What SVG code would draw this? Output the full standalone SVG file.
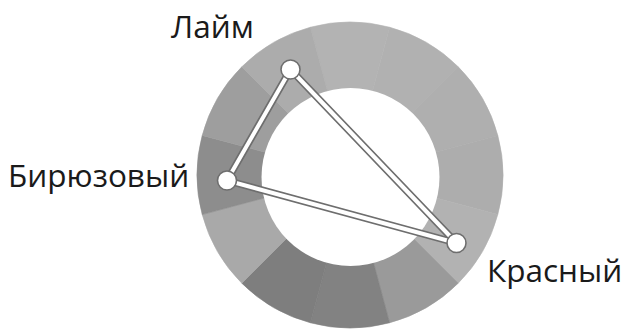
<svg xmlns="http://www.w3.org/2000/svg" width="629" height="329" viewBox="0 0 629 329">
<style>
.lbl{font-family:"Open Sans","Noto Sans","DejaVu Sans",sans-serif;font-size:31.5px;fill:#1a1a1a}
.seg{stroke-width:0.6}
.edge-o{stroke:#6e6e6e;stroke-width:7.5;stroke-linecap:round;stroke-linejoin:round;fill:none}
.edge-i{stroke:#ffffff;stroke-width:4;stroke-linecap:round;stroke-linejoin:round;fill:none}
.dot{fill:#ffffff;stroke:#6e6e6e;stroke-width:1.6}
</style>
<rect width="629" height="329" fill="#ffffff"/>
<g id="wheel">
<path class="seg" d="M350 175 L310.4 27.2 A153 153 0 0 1 389.6 27.2 Z" fill="#b3b3b3" stroke="#b3b3b3"/>
<path class="seg" d="M350 175 L389.6 27.2 A153 153 0 0 1 458.2 66.8 Z" fill="#b1b1b1" stroke="#b1b1b1"/>
<path class="seg" d="M350 175 L458.2 66.8 A153 153 0 0 1 497.8 135.4 Z" fill="#afafaf" stroke="#afafaf"/>
<path class="seg" d="M350 175 L497.8 135.4 A153 153 0 0 1 497.8 214.6 Z" fill="#adadad" stroke="#adadad"/>
<path class="seg" d="M350 175 L497.8 214.6 A153 153 0 0 1 458.2 283.2 Z" fill="#b2b2b2" stroke="#b2b2b2"/>
<path class="seg" d="M350 175 L458.2 283.2 A153 153 0 0 1 389.6 322.8 Z" fill="#9a9a9a" stroke="#9a9a9a"/>
<path class="seg" d="M350 175 L389.6 322.8 A153 153 0 0 1 310.4 322.8 Z" fill="#828282" stroke="#828282"/>
<path class="seg" d="M350 175 L310.4 322.8 A153 153 0 0 1 241.8 283.2 Z" fill="#7e7e7e" stroke="#7e7e7e"/>
<path class="seg" d="M350 175 L241.8 283.2 A153 153 0 0 1 202.2 214.6 Z" fill="#a9a9a9" stroke="#a9a9a9"/>
<path class="seg" d="M350 175 L202.2 214.6 A153 153 0 0 1 202.2 135.4 Z" fill="#8d8d8d" stroke="#8d8d8d"/>
<path class="seg" d="M350 175 L202.2 135.4 A153 153 0 0 1 241.8 66.8 Z" fill="#9e9e9e" stroke="#9e9e9e"/>
<path class="seg" d="M350 175 L241.8 66.8 A153 153 0 0 1 310.4 27.2 Z" fill="#acacac" stroke="#acacac"/>
<circle cx="350.5" cy="177" r="89" fill="#ffffff"/>
</g>
<g id="connectors">
<path class="edge-o" d="M290.5 69.5 L227 180.5 L456.5 243 Z"/>
<path class="edge-i" d="M290.5 69.5 L227 180.5 L456.5 243 Z"/>
</g>
<g id="node-lime">
<circle class="dot" cx="290.5" cy="69.5" r="9.5"/>
<text class="lbl" x="171" y="37.5">Лайм</text>
</g>
<g id="node-turquoise">
<circle class="dot" cx="227" cy="180.5" r="9.5"/>
<text class="lbl" x="8" y="187">Бирюзовый</text>
</g>
<g id="node-red">
<circle class="dot" cx="456.5" cy="243" r="9.5"/>
<text class="lbl" x="487" y="282">Красный</text>
</g>
</svg>
